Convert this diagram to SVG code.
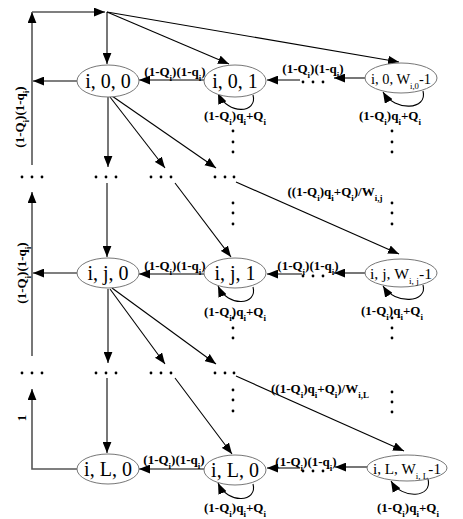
<svg xmlns="http://www.w3.org/2000/svg" width="463" height="519" viewBox="0 0 463 519">
<defs>
<marker id="ah" viewBox="0 0 10 8" refX="10" refY="4" markerWidth="11" markerHeight="9" markerUnits="userSpaceOnUse" orient="auto"><path d="M0,0 L10,4 L0,8 Z" fill="#000"/></marker>
</defs>
<style>
.n{fill:#fff;stroke:#777;stroke-width:1}
.nt{font-family:"Liberation Serif",serif;font-size:20px;fill:#000;text-anchor:middle}
.wt{font-family:"Liberation Serif",serif;font-size:15px;fill:#000;text-anchor:middle}
.g{stroke:#555;stroke-width:1.6;fill:none}
.k{stroke:#000;stroke-width:1.1;fill:none}
.a{marker-end:url(#ah)}
.l{font-family:"Liberation Serif",serif;font-weight:bold;font-size:13px;fill:#000;text-anchor:middle}
.s{font-size:9px}
.d{fill:#000}
</style>
<rect width="463" height="519" fill="#fff"/>
<g id="connectors">
<line class="g a" x1="32" y1="165" x2="32" y2="12"/>
<line class="g a" x1="32" y1="12" x2="105" y2="12"/>
<line class="g a" x1="107" y1="12" x2="107" y2="64"/>
<line class="k a" x1="107" y1="12" x2="229" y2="64"/>
<line class="k a" x1="107" y1="12" x2="399" y2="62"/>
<line class="g a" x1="204" y1="80" x2="139" y2="80"/>
<line class="g a" x1="77" y1="81" x2="33" y2="81"/>
<line class="g a" x1="366" y1="78" x2="334" y2="78"/>
<line class="g a" x1="300" y1="80" x2="267" y2="80"/>
<path class="k a" d="M253,95 C258,113 228,116 218,93"/>
<path class="k a" d="M423,91 C428,110 395,112 383,92"/>
<line class="g a" x1="108" y1="97" x2="108" y2="167"/>
<line class="k a" x1="110" y1="97" x2="165" y2="168"/>
<line class="k a" x1="112" y1="96" x2="216" y2="168"/>
<line class="g a" x1="32" y1="356" x2="32" y2="192"/>
<line class="g a" x1="107" y1="183" x2="107" y2="257"/>
<line class="k a" x1="175" y1="183" x2="231" y2="257"/>
<line class="k a" x1="236" y1="182" x2="399" y2="254"/>
<line class="g a" x1="204" y1="274" x2="139" y2="274"/>
<line class="g a" x1="77" y1="273" x2="33" y2="273"/>
<line class="g a" x1="366" y1="273" x2="334" y2="273"/>
<line class="g a" x1="302" y1="274" x2="267" y2="274"/>
<path class="k a" d="M253,287 C258,305 228,308 218,286"/>
<path class="k a" d="M423,285 C428,303 395,305 383,286"/>
<line class="g a" x1="108" y1="289" x2="108" y2="363"/>
<line class="k a" x1="110" y1="289" x2="165" y2="364"/>
<line class="k a" x1="112" y1="288" x2="216" y2="364"/>
<polyline class="g a" points="77,469 32,469 32,389"/>
<line class="g a" x1="107" y1="378" x2="107" y2="453"/>
<line class="k a" x1="175" y1="378" x2="232" y2="454"/>
<line class="k a" x1="236" y1="376" x2="404" y2="451"/>
<line class="g a" x1="204" y1="469" x2="139" y2="469"/>
<line class="g a" x1="367" y1="467" x2="335" y2="467"/>
<line class="g a" x1="300" y1="468" x2="267" y2="468"/>
<path class="k a" d="M253,484 C258,502 228,505 218,483"/>
<path class="k a" d="M428,479 C433,498 402,500 391,481"/>
</g>
<g id="dots">
<g class="d">
<circle cx="22" cy="177" r="1.4"/><circle cx="32" cy="177" r="1.4"/><circle cx="42" cy="177" r="1.4"/>
<circle cx="96" cy="177" r="1.4"/><circle cx="106" cy="177" r="1.4"/><circle cx="116" cy="177" r="1.4"/>
<circle cx="151" cy="177" r="1.4"/><circle cx="161" cy="177" r="1.4"/><circle cx="171" cy="177" r="1.4"/>
<circle cx="215" cy="177" r="1.4"/><circle cx="225" cy="177" r="1.4"/><circle cx="234" cy="177" r="1.4"/>
<circle cx="22" cy="373" r="1.4"/><circle cx="32" cy="373" r="1.4"/><circle cx="42" cy="373" r="1.4"/>
<circle cx="96" cy="373" r="1.4"/><circle cx="106" cy="373" r="1.4"/><circle cx="116" cy="373" r="1.4"/>
<circle cx="151" cy="373" r="1.4"/><circle cx="161" cy="373" r="1.4"/><circle cx="171" cy="373" r="1.4"/>
<circle cx="215" cy="373" r="1.4"/><circle cx="225" cy="373" r="1.4"/><circle cx="234" cy="373" r="1.4"/>
<circle cx="233" cy="131" r="1.4"/><circle cx="233" cy="142" r="1.4"/><circle cx="233" cy="152" r="1.4"/>
<circle cx="392" cy="131" r="1.4"/><circle cx="392" cy="142" r="1.4"/><circle cx="392" cy="152" r="1.4"/>
<circle cx="233" cy="203" r="1.4"/><circle cx="233" cy="213" r="1.4"/><circle cx="233" cy="224" r="1.4"/>
<circle cx="392" cy="203" r="1.4"/><circle cx="392" cy="213" r="1.4"/><circle cx="392" cy="224" r="1.4"/>
<circle cx="233" cy="318" r="1.4"/><circle cx="233" cy="328" r="1.4"/><circle cx="233" cy="338" r="1.4"/>
<circle cx="392" cy="318" r="1.4"/><circle cx="392" cy="328" r="1.4"/><circle cx="392" cy="338" r="1.4"/>
<circle cx="233" cy="390" r="1.4"/><circle cx="233" cy="400" r="1.4"/><circle cx="233" cy="411" r="1.4"/>
<circle cx="392" cy="392" r="1.4"/><circle cx="392" cy="402" r="1.4"/><circle cx="392" cy="412" r="1.4"/>
<circle cx="303" cy="82" r="1.4"/><circle cx="313" cy="82" r="1.4"/><circle cx="323" cy="82" r="1.4"/>
<circle cx="303" cy="276" r="1.4"/><circle cx="313" cy="276" r="1.4"/><circle cx="323" cy="276" r="1.4"/>
<circle cx="303" cy="471" r="1.4"/><circle cx="313" cy="471" r="1.4"/><circle cx="323" cy="471" r="1.4"/>
</g>
</g>
<g id="labels">
<text class="l" x="175" y="76">(1-Q<tspan class="s" baseline-shift="sub">i</tspan>)(1-q<tspan class="s" baseline-shift="sub">i</tspan>)</text>
<text class="l" x="313" y="73">(1-Q<tspan class="s" baseline-shift="sub">i</tspan>)(1-q<tspan class="s" baseline-shift="sub">i</tspan>)</text>
<text class="l" x="235" y="120">(1-Q<tspan class="s" baseline-shift="sub">i</tspan>)q<tspan class="s" baseline-shift="sub">i</tspan>+Q<tspan class="s" baseline-shift="sub">i</tspan></text>
<text class="l" x="390" y="120">(1-Q<tspan class="s" baseline-shift="sub">i</tspan>)q<tspan class="s" baseline-shift="sub">i</tspan>+Q<tspan class="s" baseline-shift="sub">i</tspan></text>
<text class="l" transform="translate(24,117) rotate(-90)">(1-Q<tspan class="s" baseline-shift="sub">i</tspan>)(1-q<tspan class="s" baseline-shift="sub">i</tspan>)</text>
<text class="l" x="335" y="196">((1-Q<tspan class="s" baseline-shift="sub">i</tspan>)q<tspan class="s" baseline-shift="sub">i</tspan>+Q<tspan class="s" baseline-shift="sub">i</tspan>)/W<tspan class="s" baseline-shift="sub">i,j</tspan></text>
<text class="l" x="175" y="270">(1-Q<tspan class="s" baseline-shift="sub">i</tspan>)(1-q<tspan class="s" baseline-shift="sub">i</tspan>)</text>
<text class="l" x="308" y="270">(1-Q<tspan class="s" baseline-shift="sub">i</tspan>)(1-q<tspan class="s" baseline-shift="sub">i</tspan>)</text>
<text class="l" x="235" y="316">(1-Q<tspan class="s" baseline-shift="sub">i</tspan>)q<tspan class="s" baseline-shift="sub">i</tspan>+Q<tspan class="s" baseline-shift="sub">i</tspan></text>
<text class="l" x="392" y="315">(1-Q<tspan class="s" baseline-shift="sub">i</tspan>)q<tspan class="s" baseline-shift="sub">i</tspan>+Q<tspan class="s" baseline-shift="sub">i</tspan></text>
<text class="l" transform="translate(26,273) rotate(-90)">(1-Q<tspan class="s" baseline-shift="sub">i</tspan>)(1-q<tspan class="s" baseline-shift="sub">i</tspan>)</text>
<text class="l" x="320" y="393">((1-Q<tspan class="s" baseline-shift="sub">i</tspan>)q<tspan class="s" baseline-shift="sub">i</tspan>+Q<tspan class="s" baseline-shift="sub">i</tspan>)/W<tspan class="s" baseline-shift="sub">i,L</tspan></text>
<text class="l" transform="translate(26,418) rotate(-90)">1</text>
<text class="l" x="174" y="464">(1-Q<tspan class="s" baseline-shift="sub">i</tspan>)(1-q<tspan class="s" baseline-shift="sub">i</tspan>)</text>
<text class="l" x="306" y="466">(1-Q<tspan class="s" baseline-shift="sub">i</tspan>)(1-q<tspan class="s" baseline-shift="sub">i</tspan>)</text>
<text class="l" x="235" y="512">(1-Q<tspan class="s" baseline-shift="sub">i</tspan>)q<tspan class="s" baseline-shift="sub">i</tspan>+Q<tspan class="s" baseline-shift="sub">i</tspan></text>
<text class="l" x="408" y="512">(1-Q<tspan class="s" baseline-shift="sub">i</tspan>)q<tspan class="s" baseline-shift="sub">i</tspan>+Q<tspan class="s" baseline-shift="sub">i</tspan></text>
</g>
<g id="n_i_0_0"><ellipse class="n" cx="108" cy="81" rx="31" ry="16"/><text class="nt" x="108" y="88">i, 0, 0</text></g>
<g id="n_i_0_1"><ellipse class="n" cx="235" cy="81" rx="31" ry="16"/><text class="nt" x="235" y="88">i, 0, 1</text></g>
<g id="n_i_0_W"><ellipse class="n" cx="401" cy="78" rx="36" ry="15"/><text class="wt" x="401" y="84" textLength="60" lengthAdjust="spacingAndGlyphs">i, 0, W<tspan class="s" baseline-shift="sub">i,0</tspan>-1</text></g>
<g id="n_i_j_0"><ellipse class="n" cx="108" cy="273" rx="31" ry="15"/><text class="nt" x="108" y="280">i, j, 0</text></g>
<g id="n_i_j_1"><ellipse class="n" cx="235" cy="273" rx="31" ry="15"/><text class="nt" x="235" y="280">i, j, 1</text></g>
<g id="n_i_j_W"><ellipse class="n" cx="401" cy="273" rx="36" ry="14"/><text class="wt" x="401" y="279" textLength="62" lengthAdjust="spacingAndGlyphs">i, j, W<tspan class="s" baseline-shift="sub">i, j</tspan>-1</text></g>
<g id="n_i_L_0"><ellipse class="n" cx="108" cy="469" rx="31" ry="15"/><text class="nt" x="108" y="476">i, L, 0</text></g>
<g id="n_i_L_0b"><ellipse class="n" cx="235" cy="470" rx="31" ry="15"/><text class="nt" x="235" y="477">i, L, 0</text></g>
<g id="n_i_L_W"><ellipse class="n" cx="407" cy="468" rx="40" ry="13"/><text class="wt" x="407" y="474" textLength="68" lengthAdjust="spacingAndGlyphs">i, L, W<tspan class="s" baseline-shift="sub">i, L</tspan>-1</text></g>
</svg>
